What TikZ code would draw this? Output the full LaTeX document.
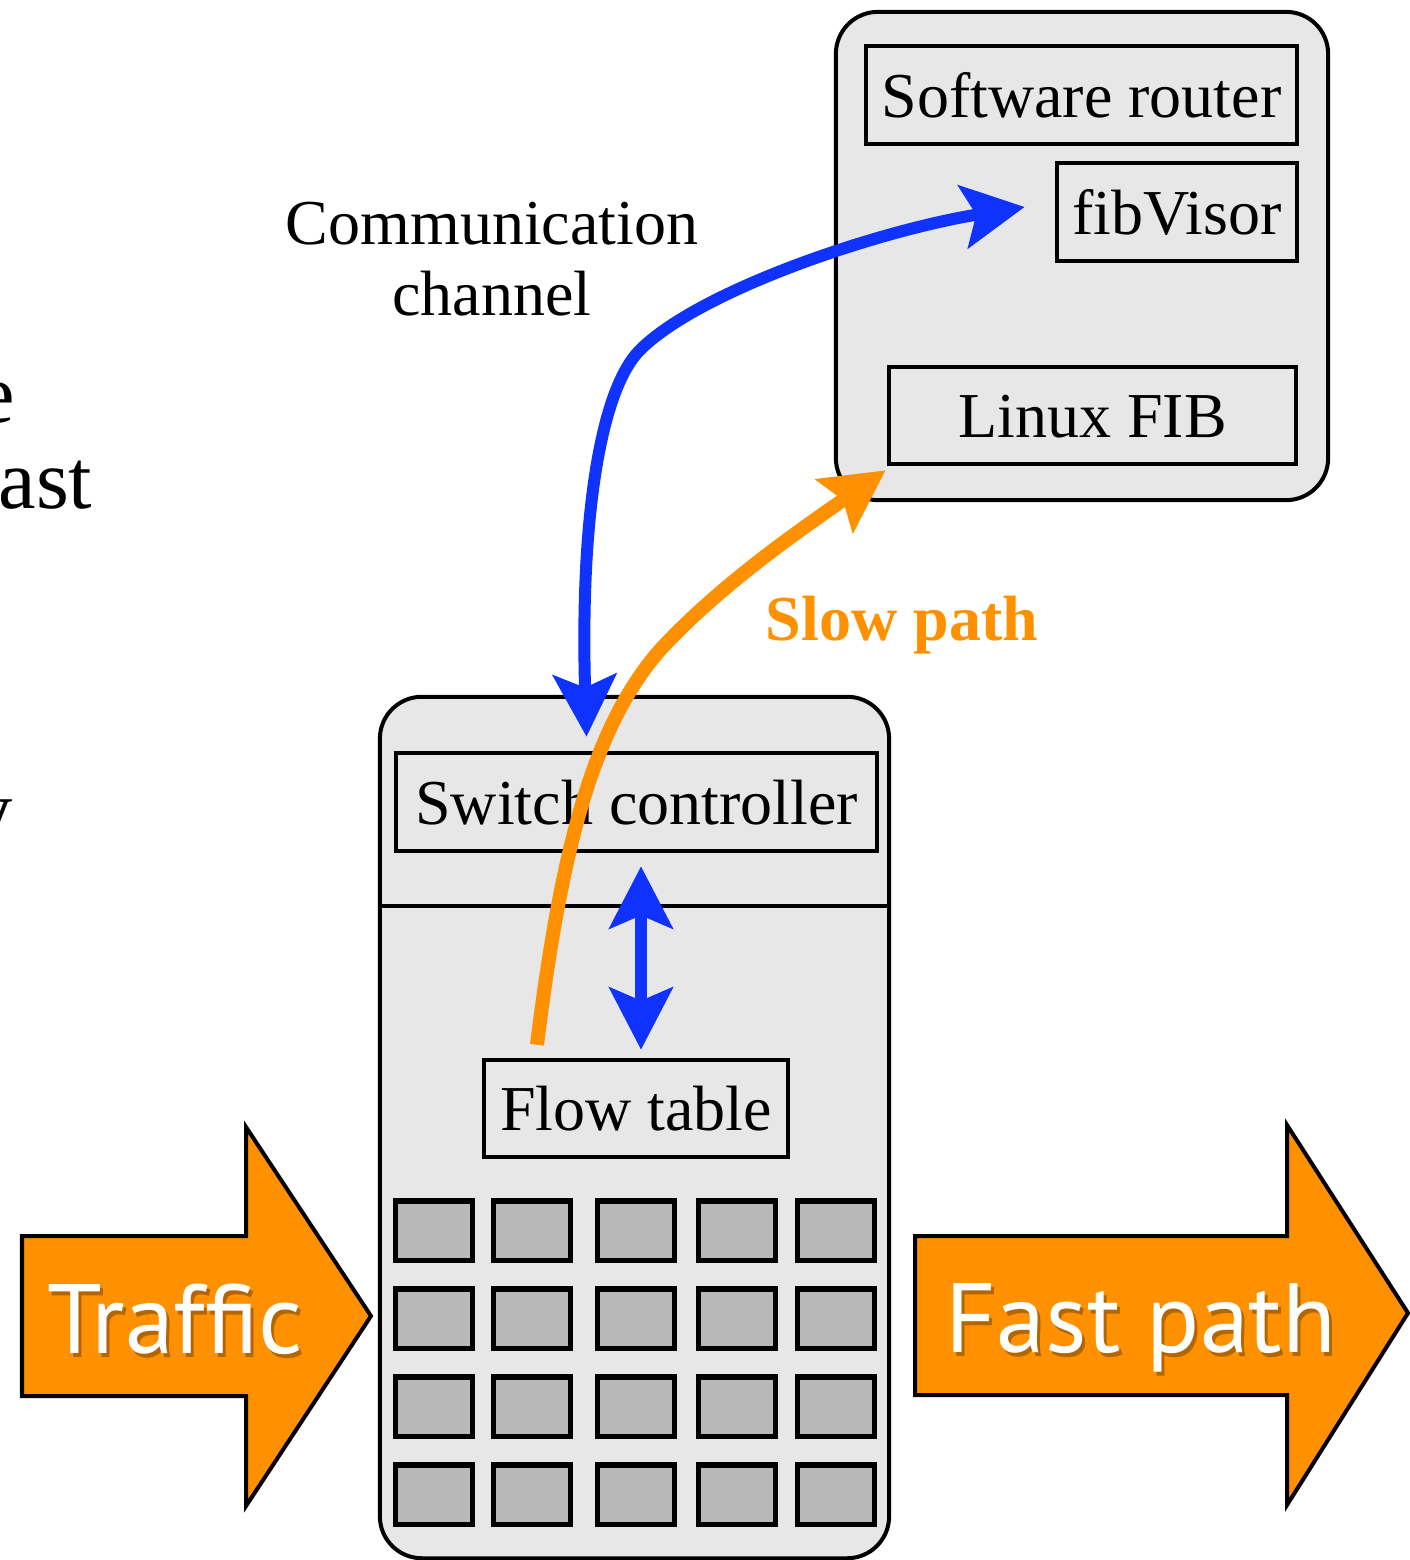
\documentclass[tikz,border=0pt]{standalone}
\usepackage{fontspec}
\setmainfont{Liberation Serif}
\newfontfamily\arrowfont{PT Sans}
\usetikzlibrary{arrows.meta,calc}
\definecolor{boxgray}{RGB}{231,231,231}
\definecolor{cellgray}{RGB}{184,184,184}
\definecolor{chanblue}{RGB}{15,50,255}
\definecolor{slowor}{RGB}{255,145,0}
\newcommand\lblfont{\fontsize{18.2}{20.2}\selectfont}
\newcommand\bigarrowfont{\arrowfont\fontsize{28}{30}\selectfont}
\newcommand\slidefont{\fontsize{24}{28}\selectfont}
\tikzset{
  outerbox/.style={draw, line width=0.04cm, fill=boxgray, rounded corners=0.42cm, inner sep=0pt},
  inbox/.style={draw, line width=0.045cm, inner sep=0pt, font=\lblfont, text height=0.44cm, text depth=0cm},
  cell/.style={draw, line width=0.05cm, fill=cellgray, minimum width=0.76cm, minimum height=0.59cm, inner sep=0pt},
  bigarrow/.style={draw, line width=0.04cm, fill=slowor, line join=miter},
  bigtext/.style={font=\bigarrowfont, inner sep=0pt, anchor=base},
  comm/.style={draw=chanblue, line width=0.12cm, {Stealth[length=0.62cm, width=0.63cm, inset=0.13cm]}-{Stealth[length=0.62cm, width=0.63cm, inset=0.13cm]}},
  slowarrow/.style={draw=slowor, line width=0.14cm, -{Stealth[length=0.62cm, width=0.64cm, inset=0.1cm]}},
  plaintext/.style={inner sep=0pt, font=\lblfont},
  fragment/.style={inner sep=0pt, font=\slidefont, anchor=base east}
}
\begin{document}
\begin{tikzpicture}[x=0.01cm, y=-0.01cm]
\useasboundingbox (0,0) rectangle (1410,1560);
\clip (0,0) rectangle (1410,1560);

% cut-off slide text at the left edge
\node[fragment] (fragE) at (16,422) {e};
\node[fragment] (fragFast) at (93,508) {fast};
\node[fragment] (fragY) at (13,838) {y};

% software router
\node[outerbox, minimum width=4.92cm, minimum height=4.88cm] (sr) at (1082,256) {};
\node[inbox, minimum width=4.31cm, minimum height=0.98cm] (swr) at (1081.5,95) {Software router};
\node[inbox, minimum width=2.40cm, minimum height=0.98cm] (fv) at (1177,212) {fibVisor};
\node[inbox, minimum width=4.07cm, minimum height=0.97cm] (lf) at (1092.5,415.5) {Linux FIB};

% switch
\node[outerbox, minimum width=5.09cm, minimum height=8.61cm] (sw) at (634.5,1127.5) {};
\draw[line width=0.04cm] (sw.west |- 0,906) -- (sw.east |- 0,906);
\node[inbox, minimum width=4.81cm, minimum height=0.98cm] (sc) at (636.5,802) {Switch controller};
\node[inbox, minimum width=3.04cm, minimum height=0.97cm] (ft) at (636,1108.5) {Flow table};
\foreach \cx [count=\i] in {434,532,636,737,836}
  \foreach \cy [count=\j] in {1230.5,1318.5,1406.5,1494.5}
    \node[cell] (c\i\j) at (\cx,\cy) {};

% traffic and fast path arrows
\draw[bigarrow] (22,1236) -- (246,1236) -- (246,1127) -- (371,1316) -- (246,1506) -- (246,1396) -- (22,1396) -- cycle;
\node[bigtext, text=black, opacity=0.3] (trafficshadow) at (178,1357) {Traffic};
\node[bigtext, text=white] (traffic) at (175,1353) {Traffic};
\draw[bigarrow] (915,1236) -- (1287,1236) -- (1287,1125) -- (1408,1313) -- (1287,1505) -- (1287,1395) -- (915,1395) -- cycle;
\node[bigtext, text=black, opacity=0.3] (fastshadow) at (1144,1356) {Fast path};
\node[bigtext, text=white] (fast) at (1141,1352) {Fast path};

% communication channel
\draw[comm] ($(sc.north)+(-50,-14)$) .. controls (580,520) and (600,390) .. (640,350)
  .. controls (700,290) and (880,230) .. ($(fv.west)+(-30,-5)$);
\node[plaintext, align=center] (cclabel) at (492,259) {Communication\\channel};

% controller <-> flow table
\draw[comm] ($(sc.south)+(4.5,13)$) -- ($(ft.north)+(5,-8)$);

% slow path
\draw[slowarrow] ($(ft.north)+(-99,-13)$) .. controls (560,860) and (590,730) .. (660,650)
  .. controls (720,585) and (800,530) .. ($(lf.south west)+(-1,4)$);
\node[plaintext, font=\lblfont\bfseries, text=slowor, anchor=base] (slowlabel) at (902,640) {Slow path};
\end{tikzpicture}
\end{document}
